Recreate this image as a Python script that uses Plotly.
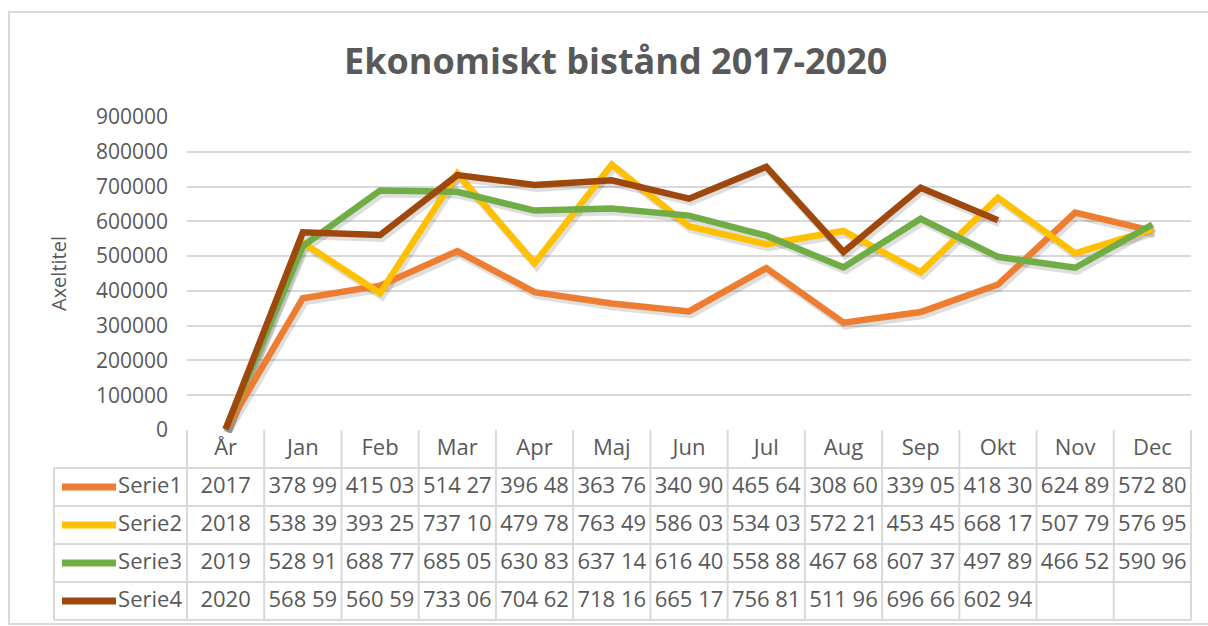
import plotly.graph_objects as go

# ---------------- data ----------------
categories = ["År", "Jan", "Feb", "Mar", "Apr", "Maj", "Jun", "Jul", "Aug", "Sep", "Okt", "Nov", "Dec"]
series_names = ["Serie1", "Serie2", "Serie3", "Serie4"]
years = [2017, 2018, 2019, 2020]
serie1 = [378990, 415030, 514270, 396480, 363760, 340900, 465640, 308600, 339050, 418300, 624890, 572800]
serie2 = [538390, 393250, 737100, 479780, 763490, 586030, 534030, 572210, 453450, 668170, 507790, 576950]
serie3 = [528910, 688770, 685050, 630830, 637140, 616400, 558880, 467680, 607370, 497890, 466520, 590960]
serie4 = [568590, 560590, 733060, 704620, 718160, 665170, 756810, 511960, 696660, 602940, None, None]
y_ticks = [0, 100000, 200000, 300000, 400000, 500000, 600000, 700000, 800000, 900000]
title_text = "Ekonomiskt bistånd 2017-2020"
y_title = "Axeltitel"

colors = ["#ED7D31", "#FFC000", "#70AD47", "#9E480E"]
monthly = [serie1, serie2, serie3, serie4]

# ---------------- geometry / style ----------------
W, H = 1208, 626
FONT = "Open Sans"
TXT = "#595959"
GRID = "#d9d9d9"
PL, PR, PT, PB = 187, 1191, 117, 430   # plot area (px)
TB = 620                              # table bottom (px)
LEG_L = 54                            # legend column left (px)
n = len(categories)
nrows = 1 + len(series_names)
unit = (PR - PL) / n
rowh = (TB - PB) / nrows
pad = 3


def fx(p):
    return p / W


def fy(p):
    return 1 - p / H


def fmt(v):
    if v is None:
        return ""
    return f"{v:,}".replace(",", " ")[:6]


fig = go.Figure()

# register the grid subplot (xy)
fig.add_trace(go.Scatter(x=[None], y=[None], xaxis="x", yaxis="y", showlegend=False, hoverinfo="skip"))

# shadow subplot (x3/y3) and main line subplot (x4/y4)
for name, yr, vals in zip(series_names, years, monthly):
    fig.add_trace(go.Scatter(x=categories, y=[yr] + vals, mode="lines", xaxis="x3", yaxis="y3",
                             line=dict(color="rgba(0,0,0,0.13)", width=8),
                             hoverinfo="skip", showlegend=False, connectgaps=False))
for name, yr, vals, col in zip(series_names, years, monthly, colors):
    fig.add_trace(go.Scatter(x=categories, y=[yr] + vals, mode="lines", name=name, xaxis="x4", yaxis="y4",
                             line=dict(color=col, width=6.5), showlegend=False, connectgaps=False))

# ---------------- data table (x2/y2) ----------------
tx, ty, tt = [], [], []
for i, c in enumerate(categories):
    tx.append(i); ty.append(0.5); tt.append(c)
for r, (yr, vals) in enumerate(zip(years, monthly), start=1):
    row = [str(yr)] + [fmt(v) for v in vals]
    for i, t in enumerate(row):
        tx.append(i); ty.append(r + 0.5); tt.append(t)
fig.add_trace(go.Scatter(x=tx, y=ty, text=tt, mode="text", xaxis="x2", yaxis="y2",
                         textposition="middle center", cliponaxis=False,
                         textfont=dict(family=FONT, size=22, color=TXT),
                         hoverinfo="skip", showlegend=False))

first_edge = -0.5
leg_left_u = first_edge - (PL - LEG_L) / unit
# legend labels
fig.add_trace(go.Scatter(x=[first_edge - 5 / unit] * len(series_names),
                         y=[r + 0.5 for r in range(1, nrows)], text=series_names,
                         mode="text", textposition="middle left", cliponaxis=False,
                         xaxis="x2", yaxis="y2",
                         textfont=dict(family=FONT, size=22, color=TXT),
                         hoverinfo="skip", showlegend=False))
# legend swatches
for r, col in enumerate(colors, start=1):
    fig.add_trace(go.Scatter(x=[first_edge - (PL - 62) / unit, first_edge - (PL - 116) / unit],
                             y=[r + 0.5, r + 0.5], mode="lines", xaxis="x2", yaxis="y2",
                             line=dict(color=col, width=7), hoverinfo="skip", showlegend=False))

shapes = []
lw = 2
for r in range(1, nrows + 1):
    shapes.append(dict(type="line", xref="x2", yref="y2", x0=leg_left_u, x1=n - 0.5, y0=r, y1=r,
                       line=dict(color=GRID, width=lw)))
for i in range(n + 1):
    shapes.append(dict(type="line", xref="x2", yref="y2", x0=i - 0.5, x1=i - 0.5, y0=0, y1=nrows,
                       line=dict(color=GRID, width=lw)))
shapes.append(dict(type="line", xref="x2", yref="y2", x0=leg_left_u, x1=leg_left_u, y0=1, y1=nrows,
                   line=dict(color=GRID, width=lw)))
# chart border
shapes.append(dict(type="rect", xref="paper", yref="paper", x0=fx(9), x1=fx(1240), y0=fy(624), y1=fy(12),
                   line=dict(color=GRID, width=2), layer="below"))

annotations = [
    dict(text=title_text, x=fx(615), y=fy(61), xref="paper", yref="paper", showarrow=False,
         xanchor="center", yanchor="middle",
         font=dict(family=FONT, size=36, color=TXT, weight="bold")),
    dict(text=y_title, x=fx(58), y=fy(274), xref="paper", yref="paper", showarrow=False,
         xanchor="center", yanchor="middle", textangle=-90,
         font=dict(family=FONT, size=20, color=TXT)),
]

x_rng = [-0.5, n - 0.5]
y_rng = [y_ticks[0], y_ticks[-1]]
dx, dy = 2, 3
hidden = dict(visible=False, automargin=False)

fig.update_layout(
    width=W, height=H, autosize=False,
    margin=dict(l=0, r=0, t=0, b=0, pad=0, autoexpand=False),
    paper_bgcolor="white", plot_bgcolor="rgba(0,0,0,0)",
    showlegend=False, shapes=shapes, annotations=annotations,
    xaxis=dict(domain=[fx(PL), fx(PR)], range=x_rng, showticklabels=False, showgrid=False,
               zeroline=False, showline=False, ticks="", automargin=False),
    yaxis=dict(domain=[fy(PB), fy(PT)], range=y_rng, tickvals=y_ticks, tickformat="d",
               showgrid=True, gridcolor=GRID, gridwidth=2, zeroline=False, showline=False,
               ticks="", ticklabelstandoff=18, automargin=False,
               tickfont=dict(family=FONT, size=21, color=TXT)),
    xaxis2=dict(domain=[fx(LEG_L - pad), fx(PR + pad)],
                range=[leg_left_u - pad / unit, n - 0.5 + pad / unit], **hidden),
    yaxis2=dict(domain=[fy(TB + pad), fy(PB - pad)],
                range=[nrows + pad / rowh, -pad / rowh], **hidden),
    xaxis3=dict(domain=[fx(PL + dx), fx(PR + dx)], range=x_rng, type="category",
                categoryorder="array", categoryarray=categories, **hidden),
    yaxis3=dict(domain=[fy(PB + dy), fy(PT + dy)], range=y_rng, **hidden),
    xaxis4=dict(domain=[fx(PL), fx(PR)], range=x_rng, type="category",
                categoryorder="array", categoryarray=categories, **hidden),
    yaxis4=dict(domain=[fy(PB), fy(PT)], range=y_rng, **hidden),
)

fig.write_html("out.html", config={"displayModeBar": False},
               post_script="document.body.style.margin='0';document.body.style.overflow='hidden';")
